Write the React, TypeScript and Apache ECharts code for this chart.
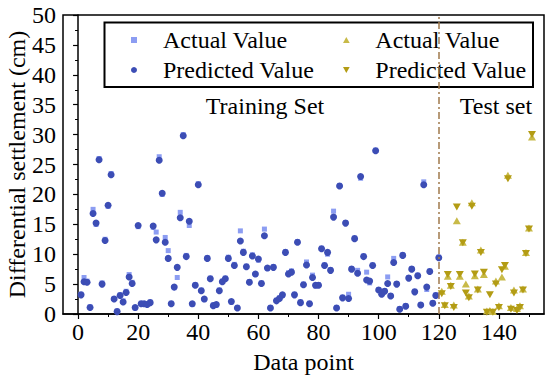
import React, { useEffect, useRef } from "react";
import * as echarts from "echarts";

// Training set (indices 1..120)
const trainPredicted = [
  3.2, 5.4, 5.3, 1.1, 16.8, 15.2, 25.8, 5.0, 12.3, 18.2,
  23.3, 2.5, 0.4, 3.1, 2.0, 3.6, 6.2, 5.1, 1.1, 14.8,
  1.7, 1.7, 1.6, 1.9, 14.7, 12.4, 25.7, 20.2, 12.0, 9.3,
  1.7, 4.5, 7.8, 16.1, 29.8, 9.6, 15.5, 1.7, 4.8, 21.6,
  3.9, 2.5, 9.3, 5.9, 1.4, 1.6, 3.9, 5.4, 5.9, 9.3,
  2.1, 8.1, 1.0, 12.2, 10.3, 7.9, 5.3, 9.7, 6.7, 9.2,
  5.1, 13.1, 7.7, 1.0, 7.8, 2.2, 2.6, 3.2, 10.3, 6.7,
  7.0, 3.2, 12.0, 1.9, 4.9, 8.2, 1.7, 6.1, 4.8, 4.8,
  10.9, 8.1, 10.3, 7.3, 16.2, 1.0, 21.4, 2.7, 15.2, 2.6,
  7.5, 12.6, 6.8, 23.0, 9.6, 5.7, 5.5, 8.1, 27.3, 4.0,
  3.3, 3.8, 5.1, 3.0, 8.6, 5.0, 0.8, 9.8, 1.3, 6.0,
  7.5, 3.7, 6.4, 1.5, 21.6, 4.5, 7.1, 1.8, 3.1, 9.4,
];
const trainActual = [
  3.3, 6.1, 5.5, 1.2, 17.5, 15.0, 26.0, 5.2, 12.5, 18.0,
  23.5, 2.6, 0.5, 3.2, 2.2, 3.8, 6.6, 5.3, 1.0, 14.6,
  1.8, 1.6, 1.7, 2.0, 14.5, 13.7, 26.3, 20.0, 12.8, 10.6,
  1.8, 4.4, 6.1, 17.0, 30.0, 9.8, 14.8, 1.6, 4.9, 21.8,
  4.0, 2.4, 9.4, 6.0, 1.5, 1.5, 4.0, 5.5, 6.0, 9.5,
  2.0, 8.3, 1.1, 13.9, 10.5, 8.0, 5.4, 9.9, 6.6, 9.0,
  5.2, 14.2, 7.6, 1.1, 7.9, 2.3, 2.7, 3.1, 10.4, 6.9,
  7.2, 3.3, 12.1, 2.0, 5.0, 8.7, 1.8, 6.5, 4.7, 4.9,
  11.0, 8.2, 10.0, 7.4, 17.2, 1.1, 21.5, 2.8, 15.3, 3.3,
  7.6, 12.7, 7.3, 22.7, 9.7, 7.0, 5.2, 8.2, 27.4, 4.1,
  3.5, 3.9, 6.2, 3.1, 9.3, 5.1, 0.9, 9.9, 1.4, 6.1,
  7.6, 3.8, 6.5, 1.6, 22.1, 4.1, 7.2, 1.9, 3.2, 9.5,
];
// Test set (indices 121..151)
const testActual = [
  3.8, 1.6, 6.3, 4.8, 1.5, 15.6, 6.3, 12.0, 5.0, 3.0,
  18.6, 6.4, 4.2, 10.7, 6.6, 0.5, 0.6, 0.4, 5.5, 1.4,
  6.2, 8.0, 23.2, 1.1, 4.0, 0.9, 1.4, 4.2, 10.3, 14.4,
  29.6,
];
const testPredicted = [
  3.4, 1.4, 6.6, 4.6, 1.1, 17.9, 6.6, 11.9, 3.5, 2.7,
  18.0, 6.7, 4.0, 10.3, 7.0, 0.3, 3.2, 0.3, 5.0, 1.1,
  7.4, 8.1, 22.6, 0.8, 3.5, 0.6, 1.1, 4.0, 10.1, 14.2,
  30.0,
];
const TRAIN_START = 1;
const TEST_START = 121;
const SPLIT_AT = 120;
const xMajorTicks = [0, 20, 40, 60, 80, 100, 120, 140];
const xMinorTicks = [10, 30, 50, 70, 90, 110, 130, 150];

const LEGEND_LABELS: Record<string, string> = {
  trainActual: "Actual Value",
  trainPredicted: "Predicted Value",
  testActual: "Actual Value",
  testPredicted: "Predicted Value",
};

const DOWN_TRI = "path://M0,0L10,0L5,9Z";
const UP_TRI = "path://M5,0L10,9L0,9Z";
const SQUARE = "path://M0,0L10,0L10,10L0,10Z";
const FONT = "Liberation Serif";

export default function App() {
  const ref = useRef<HTMLDivElement>(null);
  useEffect(() => {
    if (!ref.current) return;
    const chart = echarts.init(ref.current, null, { renderer: "svg" });
    const toPts = (arr: number[], start: number) => arr.map((v, i) => [start + i, v]);
    const legendCommon = {
      orient: "vertical",
      top: 28,
      itemWidth: 48,
      itemHeight: 6,
      itemGap: 6,
      padding: 0,
      formatter: (n: string) => LEGEND_LABELS[n] || n,
      textStyle: { fontFamily: FONT, fontSize: 24, color: "#000" },
      selectedMode: false,
    };
    chart.setOption({
      animation: false,
      backgroundColor: "#fff",
      textStyle: { fontFamily: FONT, color: "#000" },
      grid: {
        left: 63,
        right: 6,
        top: 15,
        bottom: 68,
        containLabel: false,
        outerBoundsMode: "none",
        show: true,
        borderColor: "#000",
        borderWidth: 1.5,
        backgroundColor: "transparent",
      },
      xAxis: [
        {
          type: "value",
          min: -5,
          max: 155,
          name: "Data point",
          nameLocation: "middle",
          nameGap: 36,
          nameTextStyle: { fontFamily: FONT, fontSize: 24, color: "#000" },
          axisLine: { show: true, lineStyle: { color: "#000", width: 1.5 } },
          axisTick: { show: true, inside: false, length: 5, customValues: xMajorTicks, lineStyle: { color: "#000", width: 1.2 } },
          axisLabel: { customValues: xMajorTicks, fontFamily: FONT, fontSize: 24, color: "#000", margin: 6 },
          splitLine: { show: false },
        },
        {
          type: "value",
          min: -5,
          max: 155,
          position: "bottom",
          axisLine: { show: false },
          axisTick: { show: true, inside: false, length: 3, customValues: xMinorTicks, lineStyle: { color: "#000", width: 1 } },
          axisLabel: { show: false },
          splitLine: { show: false },
        },
      ],
      yAxis: {
        type: "value",
        min: 0,
        max: 50,
        interval: 5,
        name: "Differential settlement (cm)",
        nameLocation: "middle",
        nameGap: 34,
        nameMoveOverlap: false,
        nameTextStyle: { fontFamily: FONT, fontSize: 24, color: "#000" },
        axisLine: { show: true, lineStyle: { color: "#000", width: 1.5 } },
        axisTick: { show: true, inside: false, length: 5, lineStyle: { color: "#000", width: 1.2 } },
        minorTick: { show: true, splitNumber: 2, length: 3, lineStyle: { color: "#000", width: 1 } },
        axisLabel: { fontFamily: FONT, fontSize: 24, color: "#000", margin: 7 },
        splitLine: { show: false },
      },
      legend: [
        {
          ...legendCommon,
          left: 131,
          data: [
            { name: "trainActual", icon: SQUARE },
            { name: "trainPredicted", icon: "circle" },
          ],
        },
        {
          ...legendCommon,
          left: 343,
          data: [
            { name: "testActual", icon: UP_TRI },
            { name: "testPredicted", icon: DOWN_TRI },
          ],
        },
      ],
      graphic: [
        {
          type: "rect",
          z: 3,
          shape: { x: 104.5, y: 22.5, width: 428.5, height: 64.5 },
          style: { fill: "#fff", stroke: "#000", lineWidth: 2 },
        },
        {
          type: "text",
          z: 5,
          x: 265,
          y: 106,
          style: { text: "Training Set", font: `24px "${FONT}"`, fill: "#000", textAlign: "center", textVerticalAlign: "middle" },
        },
        {
          type: "text",
          z: 5,
          x: 496,
          y: 106,
          style: { text: "Test set", font: `24px "${FONT}"`, fill: "#000", textAlign: "center", textVerticalAlign: "middle" },
        },
      ],
      series: [
        {
          name: "trainActual",
          type: "scatter",
          symbol: "rect",
          symbolSize: 5,
          itemStyle: { color: "#8c9df2", opacity: 1 },
          data: toPts(trainActual, TRAIN_START),
          z: 2,
        },
        {
          name: "trainPredicted",
          type: "scatter",
          symbol: "circle",
          symbolSize: 7,
          itemStyle: { color: "#3c4db5", opacity: 1 },
          data: toPts(trainPredicted, TRAIN_START),
          z: 3,
        },
        {
          name: "testActual",
          type: "scatter",
          symbol: UP_TRI,
          symbolSize: [8, 7],
          itemStyle: { color: "#c8ba48", opacity: 1 },
          data: toPts(testActual, TEST_START),
          z: 2,
          markLine: {
            silent: true,
            symbol: ["none", "none"],
            label: { show: false },
            lineStyle: { color: "#a07a4c", width: 1.5, type: [7, 3, 2, 3] },
            data: [{ xAxis: SPLIT_AT }],
          },
        },
        {
          name: "testPredicted",
          type: "scatter",
          symbol: DOWN_TRI,
          symbolSize: [8, 7],
          itemStyle: { color: "#b39c14", opacity: 1 },
          data: toPts(testPredicted, TEST_START),
          z: 3,
        },
      ],
    });
    return () => chart.dispose();
  }, []);
  return (
    <div
      ref={ref}
      style={{ position: "fixed", left: 0, top: 0, width: 550, height: 382, background: "#fff" }}
    />
  );
}
